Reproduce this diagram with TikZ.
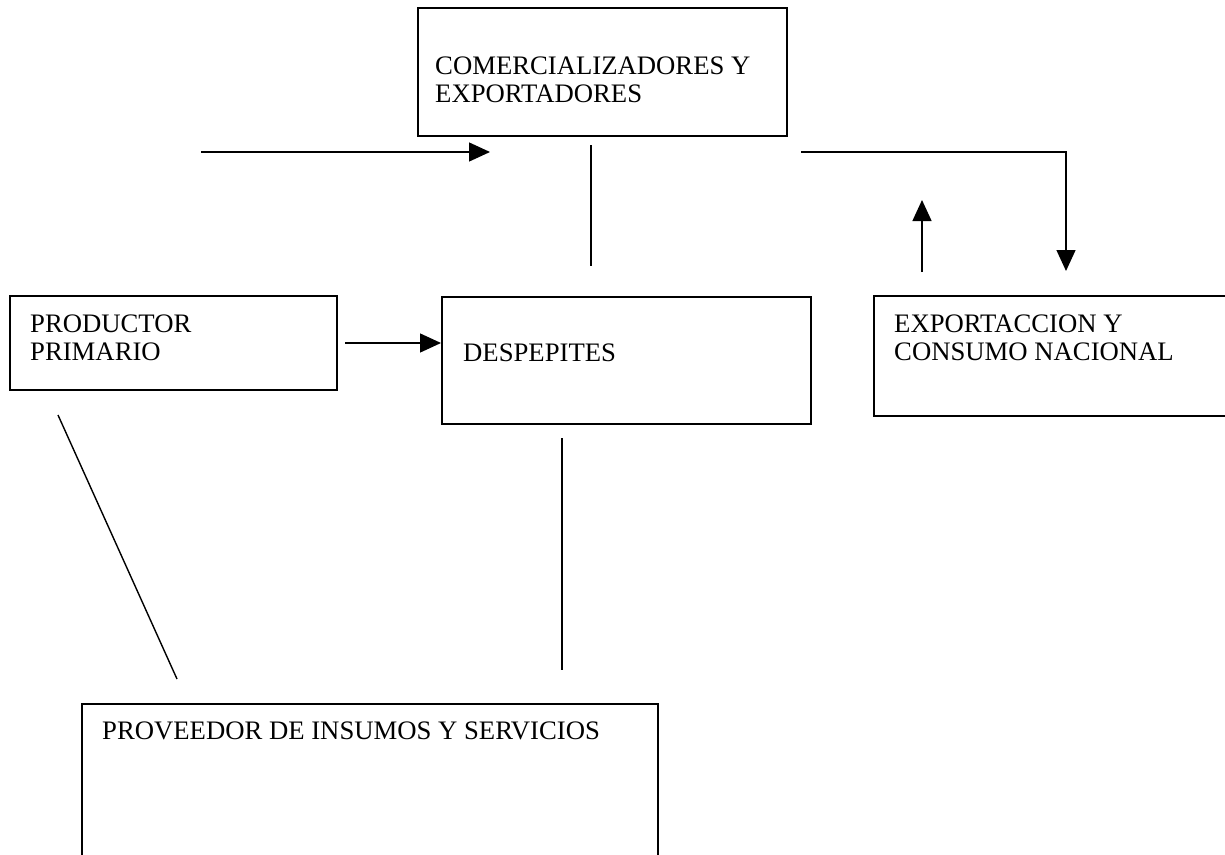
\documentclass[tikz,border=0pt]{standalone}
\usepackage{fontspec}
\setmainfont{Liberation Serif}
\usetikzlibrary{arrows.meta}
\begin{document}
\begin{tikzpicture}[x=1pt,y=-1pt,
  box/.style={draw=black,line width=1.7pt,inner sep=0pt,anchor=north west},
  lbl/.style={inner sep=0pt,anchor=base west,font=\fontsize{26.7}{29}\selectfont},
  conn/.style={draw=black,line width=1.4pt},
  arr/.style={conn,-{Triangle[length=21pt,width=19pt]}}]
\useasboundingbox (0,0) rectangle (1225,854);
% boxes
\node[box,minimum width=369pt,minimum height=128pt] (com) at (417,7) {};
\node[box,minimum width=327pt,minimum height=94pt] (prod) at (9,295) {};
\node[box,minimum width=369pt,minimum height=127pt] (desp) at (441,296) {};
\node[box,minimum width=370pt,minimum height=120pt] (expo) at (873,295) {};
\node[box,minimum width=576pt,minimum height=170pt] (prov) at (81,703) {};
% texts
\node[lbl] (comA) at (435,74) {COMERCIALIZADORES Y};
\node[lbl] (comB) at (435,102) {EXPORTADORES};
\node[lbl] (prodA) at (30,332) {PRODUCTOR};
\node[lbl] (prodB) at (30,360) {PRIMARIO};
\node[lbl] (despA) at (463,361) {DESPEPITES};
\node[lbl] (expoA) at (894,332) {EXPORTACCION Y};
\node[lbl] (expoB) at (894,360) {CONSUMO NACIONAL};
\node[lbl] (provA) at (102,739) {PROVEEDOR DE INSUMOS Y SERVICIOS};
% connector end points
\coordinate (a1s) at (201,152);
\coordinate (a1e) at (490,152);
\coordinate (v1s) at (591,145);
\coordinate (v1e) at (591,266);
\coordinate (r1s) at (801,152);
\coordinate (r1c) at (1066,152);
\coordinate (r1e) at (1066,271);
\coordinate (u1s) at (922,272);
\coordinate (u1e) at (922,200);
\coordinate (p1s) at (345,343);
\coordinate (p1e) at (441,343);
\coordinate (d1s) at (58,415);
\coordinate (d1e) at (177,679);
\coordinate (v2s) at (562,438);
\coordinate (v2e) at (562,670);
% connectors
\draw[arr] (a1s) -- (a1e);
\draw[conn] (v1s) -- (v1e);
\draw[arr] (r1s) -- (r1c) -- (r1e);
\draw[arr] (u1s) -- (u1e);
\draw[arr] (p1s) -- (p1e);
\draw[conn] (d1s) -- (d1e);
\draw[conn] (v2s) -- (v2e);
\end{tikzpicture}
\end{document}
